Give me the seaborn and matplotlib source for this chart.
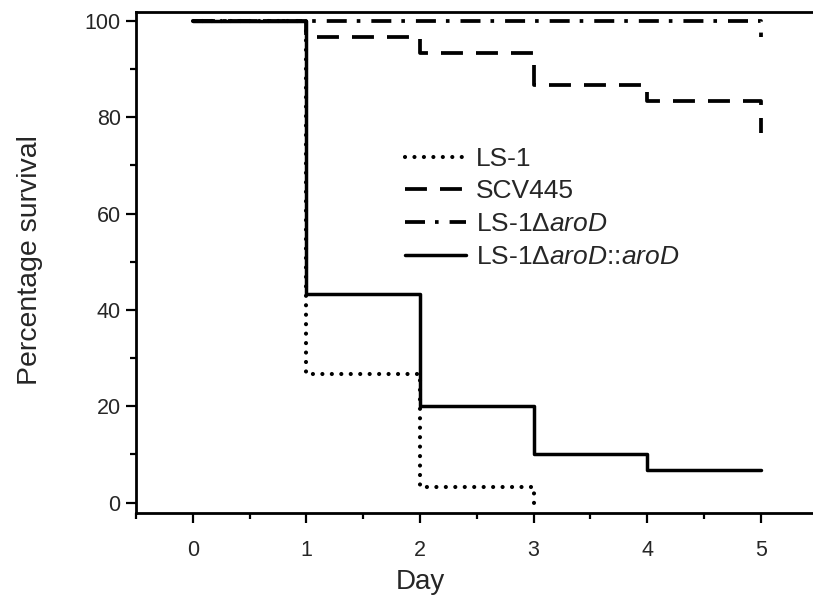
import matplotlib
matplotlib.use("Agg")
import matplotlib.pyplot as plt
import seaborn as sns
import pandas as pd
from matplotlib.ticker import MultipleLocator

# ---- data ----
strain_labels = ["LS-1", "SCV445", "LS-1Δ$\\mathit{aroD}$", "LS-1Δ$\\mathit{aroD}$::$\\mathit{aroD}$"]

ls1_day = [0, 1, 2, 3]
ls1_surv = [100, 26.7, 3.3, 0]

scv445_day = [0, 1, 2, 3, 4, 5, 5]
scv445_surv = [100, 96.7, 93.3, 86.7, 83.3, 83.3, 76.7]

arod_day = [0, 5, 5]
arod_surv = [100, 100, 96.7]

comp_day = [0, 1, 2, 3, 4, 5]
comp_surv = [100, 43.3, 20, 10, 6.7, 6.7]

x_ticks = [0, 1, 2, 3, 4, 5]
y_ticks = [0, 20, 40, 60, 80, 100]

# ---- style ----
sns.set_theme(style="ticks")
plt.rcParams["font.family"] = ["Liberation Sans", "DejaVu Sans"]
plt.rcParams["mathtext.fontset"] = "custom"
plt.rcParams["mathtext.rm"] = "Liberation Sans"
plt.rcParams["mathtext.it"] = "Liberation Sans:italic"
plt.rcParams["mathtext.sf"] = "Liberation Sans"
plt.rcParams["lines.scale_dashes"] = False

fig = plt.figure(figsize=(8.13, 6.04), dpi=100)
fig.patch.set_facecolor("white")
ax = fig.add_axes([0.1673, 0.1502, 0.8384, 0.8305])
ax.set_facecolor("white")

series = [
    (ls1_day, ls1_surv, dict(linestyle=(0, (0.01, 6.8)), linewidth=3.0, dash_capstyle="round")),
    (scv445_day, scv445_surv, dict(linestyle=(0, (15.8, 9.4)), linewidth=2.7, dash_capstyle="butt")),
    (arod_day, arod_surv, dict(linestyle=(0, (14.4, 7.2, 2.6, 7.9)), linewidth=2.7, dash_capstyle="butt")),
    (comp_day, comp_surv, dict(linestyle="-", linewidth=2.5)),
]

for (days, surv, style), label in zip(series, strain_labels):
    df = pd.DataFrame({"Day": days, "Survival": surv})
    sns.lineplot(data=df, x="Day", y="Survival", ax=ax, color="black",
                 estimator=None, sort=False, drawstyle="steps-post",
                 label=label, **style)

ax.set_xlim(-0.5, 5.5)
ax.set_ylim(-2.2, 101.9)
ax.set_xticks(x_ticks)
ax.set_yticks(y_ticks)
ax.xaxis.set_minor_locator(MultipleLocator(0.5))
ax.yaxis.set_minor_locator(MultipleLocator(10))

for s in ["left", "bottom", "top"]:
    ax.spines[s].set_linewidth(2.0)
    ax.spines[s].set_color("black")
ax.spines["right"].set_visible(False)

ax.tick_params(which="major", direction="out", length=7.5, width=1.6, color="black",
               labelsize=15.5, top=False, right=False)
ax.tick_params(which="minor", direction="out", length=4, width=1.6, color="black",
               top=False, right=False)
ax.tick_params(axis="x", which="major", pad=12)
ax.tick_params(axis="y", which="major", pad=3.5)

ax.set_xlabel("Day", fontsize=20)
ax.set_ylabel("Percentage survival", fontsize=20.5)
ax.xaxis.set_label_coords(0.4167, -0.112)
ax.yaxis.set_label_coords(-0.136, 0.505)

leg = ax.legend(loc="upper left", bbox_to_anchor=(0.4985, 0.757),
                bbox_transform=fig.transFigure, frameon=False, fontsize=19,
                borderpad=0, borderaxespad=0, handlelength=2.3,
                handletextpad=0.38, labelspacing=0.33)

fig.savefig("out.png", dpi=100, facecolor="white")
